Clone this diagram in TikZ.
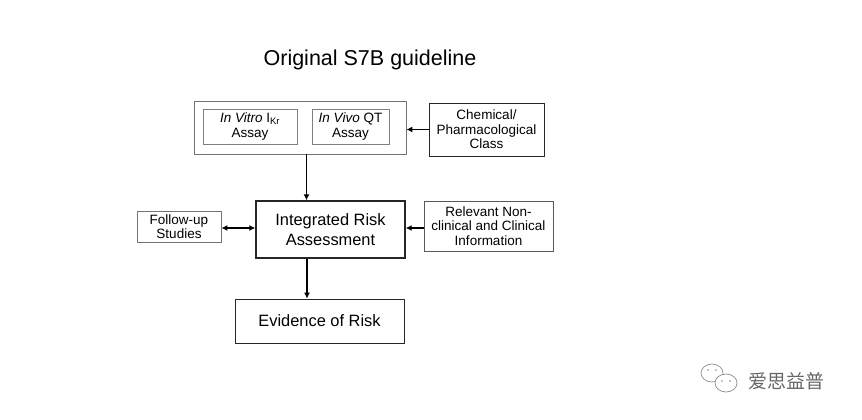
\documentclass[tikz,border=0pt]{standalone}
\usepackage{fontspec}
\setmainfont{Liberation Sans}
\newfontfamily\cjk{Noto Sans CJK SC}
\usetikzlibrary{arrows.meta,positioning}
\tikzset{
  box/.style={draw=#1, line width=0.8pt, inner sep=0pt, align=center},
  box/.default=black!60,
  sm/.style={font=\fontsize{13.5}{14.5}\selectfont},
  bg/.style={font=\fontsize{16.4}{20}\selectfont},
  arr/.style={line width=1.1pt, -{Latex[length=6pt,width=6pt]}},
  darr/.style={line width=1.1pt, {Latex[length=6pt,width=6pt]}-{Latex[length=6pt,width=6pt]}},
  eye/.style={fill=black!45, circle, inner sep=0pt, minimum size=1.6pt},
}
\begin{document}
\begin{tikzpicture}[x=1pt,y=-1pt]
\useasboundingbox (0,0) rectangle (862,420);
\node[font=\fontsize{21.5}{24}\selectfont] (title) at (370,60) {Original S7B guideline};
% outer assay box
\node[box=black!55, minimum width=212pt, minimum height=53pt] (outer) at (300,127.5) {};
\node[box=black!50, sm, minimum width=94pt, minimum height=35pt] (vitro) at (250,126.5) {\textit{In Vitro} I\textsubscript{Kr}\\Assay};
\node[box=black!50, sm, minimum width=77pt, minimum height=35pt] (vivo) at (350.5,126.5) {\textit{In Vivo} QT\\Assay};
\node[box=black!85, sm, minimum width=115pt, minimum height=53pt] (chem) at (486.5,129.5) {Chemical/\\Pharmacological\\Class};
\node[box=black!85, bg, line width=1.4pt, minimum width=149pt, minimum height=57pt] (ira) at (330.5,229.5) {Integrated Risk\\Assessment};
\node[box=black!55, sm, minimum width=84pt, minimum height=31pt] (follow) at (179,226.5) {Follow-up\\Studies};
\node[box=black!65, sm, minimum width=129pt, minimum height=50pt] (rel) at (488.5,226) {Relevant Non-\\clinical and Clinical\\Information};
\node[box=black!85, bg, minimum width=169pt, minimum height=44pt] (evid) at (319.5,321) {Evidence of Risk};
% connectors
\draw[arr] (chem.west) -- (outer.east |- chem.west);
\draw[arr] (outer.south -| 306.5,0) -- (ira.north -| 306.5,0);
\draw[darr] (follow.east |- 0,228) -- (ira.west |- 0,228);
\draw[arr] (rel.west |- 0,228) -- (ira.east |- 0,228);
\draw[arr] (ira.south -| 307,0) -- (evid.north -| 307,0);
% watermark
\begin{scope}[draw=black!45, line width=0.7pt]
\draw (712,373) ellipse (11pt and 9pt);
\draw[fill=white] (726,383) ellipse (11pt and 9pt);
\end{scope}
\node[eye] (e1) at (708,370) {};
\node[eye] (e2) at (716,370) {};
\node[eye] (e3) at (722,381) {};
\node[eye] (e4) at (730,381) {};
\node[text=black!60, font=\cjk\fontsize{19}{20}\selectfont, anchor=west] (wm) at (745,381) {爱思益普};
\end{tikzpicture}
\end{document}
